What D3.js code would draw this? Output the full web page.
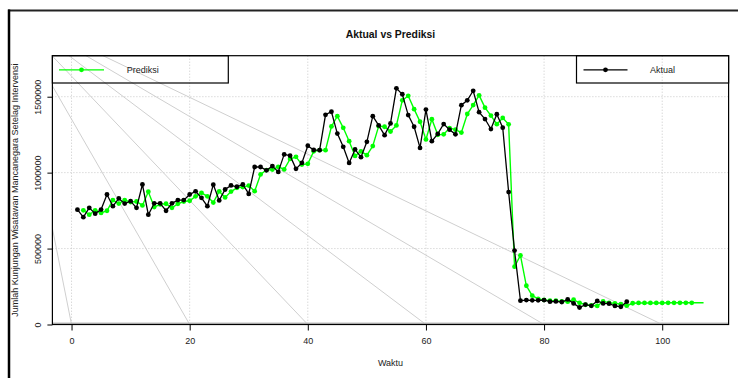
<!DOCTYPE html>
<html>
<head>
<meta charset="utf-8">
<script src="https://cdn.jsdelivr.net/npm/d3@7"></script>
<style>
  html, body { margin: 0; padding: 0; background: #fff; }
  svg { display: block; font-family: "Liberation Sans", Arial, Helvetica, sans-serif; }
</style>
</head>
<body>
<svg id="chart" width="738" height="378"></svg>
<script>
// Monthly visitor counts: actual series starts at t = 1, one-step predictions at t = 2
const actualStart = 1;
const actual = [
  756000, 707000, 768000, 730000, 757000, 856000, 779000, 830000, 796000, 812000,
  768000, 922000, 723000, 798000, 798000, 749000, 798000, 819000, 819000, 856000,
  877000, 834000, 779000, 921000, 817000, 889000, 916000, 907000, 922000, 860000,
  1037000, 1037000, 1015000, 1043000, 1005000, 1120000, 1112000, 1025000, 1064000, 1177000,
  1149000, 1148000, 1381000, 1401000, 1257000, 1170000, 1064000, 1153000, 1102000, 1203000,
  1372000, 1311000, 1247000, 1324000, 1555000, 1516000, 1379000, 1302000, 1163000, 1415000,
  1207000, 1255000, 1320000, 1283000, 1252000, 1444000, 1476000, 1539000, 1398000, 1353000,
  1287000, 1385000, 1296000, 872000, 487000, 157000, 161000, 159000, 159000, 161000,
  150000, 152000, 148000, 165000, 139000, 112000, 131000, 123000, 155000, 139000,
  137000, 122000, 117000, 150000
];

const predictedStart = 2;
const predicted = [
  752000, 723000, 752000, 735000, 749000, 819000, 796000, 819000, 806000, 810000,
  784000, 874000, 773000, 791000, 795000, 768000, 795000, 810000, 815000, 844000,
  867000, 844000, 803000, 877000, 837000, 875000, 900000, 905000, 915000, 878000,
  988000, 1017000, 1020000, 1038000, 1021000, 1090000, 1104000, 1053000, 1058000, 1140000,
  1148000, 1148000, 1304000, 1372000, 1295000, 1207000, 1110000, 1140000, 1115000, 1175000,
  1306000, 1302000, 1271000, 1311000, 1476000, 1506000, 1418000, 1335000, 1219000, 1352000,
  1249000, 1252000, 1293000, 1283000, 1264000, 1386000, 1445000, 1509000, 1428000, 1376000,
  1319000, 1360000, 1318000, 381000, 455000, 255000, 190000, 169000, 162000, 157000,
  157000, 152000, 150000, 163000, 143000, 130000, 126000, 122000, 152000, 143000,
  139000, 134000, 124000, 140000, 142000, 142000, 142000, 142000, 142000, 143000,
  143000, 143000, 143000, 143000, 143000, 143000
];
// prediction markers are drawn up to this time index; the line runs to the end
const predictedMarkedUntil = 105;

const xTicks = [0, 20, 40, 60, 80, 100];
const yTicks = [0, 500000, 1000000, 1500000];
const yMax = 1770000;

const titleText = "Aktual vs Prediksi";
const xTitle = "Waktu";
const yTitle = "Jumlah Kunjungan Wisatawan Mancanegara Setelag Intervensi";
const legendPred = "Prediksi";
const legendActual = "Aktual";

const GREEN = "#00ff00";
const BLACK = "#000000";

const actualData = actual.map((v, i) => ({ t: actualStart + i, v }));
const predData = predicted.map((v, i) => ({ t: predictedStart + i, v }));

// plot region
const L = 52.4, R = 728.6, T = 55.7, B = 324.5;

const tMin = actualStart, tMax = predictedStart + predicted.length - 1;
const pad = (tMax - tMin) * 0.04;
const x = d3.scaleLinear().domain([tMin - pad, tMax + pad]).range([L, R]);
const y = d3.scaleLinear().domain([0, yMax]).range([B, T]);

const svg = d3.select("#chart");

// figure frame (top and left edges)
const frameX = 9, frameY = 10.5;
svg.append("line").attr("x1", frameX - 1).attr("x2", 738).attr("y1", frameY).attr("y2", frameY)
  .attr("stroke", "#222").attr("stroke-width", 2);
svg.append("line").attr("x1", frameX).attr("x2", frameX).attr("y1", frameY - 1).attr("y2", 378)
  .attr("stroke", "#000").attr("stroke-width", 2.5);

svg.append("defs").append("clipPath").attr("id", "plotClip")
  .append("rect").attr("x", L).attr("y", T).attr("width", R - L).attr("height", B - T);

const plot = svg.append("g").attr("clip-path", "url(#plotClip)");

// dotted grid
plot.selectAll(".vgrid").data(xTicks).join("line")
  .attr("x1", d => x(d)).attr("x2", d => x(d)).attr("y1", T).attr("y2", B)
  .attr("stroke", "#c8c8c8").attr("stroke-width", 1).attr("stroke-dasharray", "1,2");
plot.selectAll(".hgrid").data(yTicks).join("line")
  .attr("x1", L).attr("x2", R).attr("y1", d => y(d)).attr("y2", d => y(d))
  .attr("stroke", "#c8c8c8").attr("stroke-width", 1).attr("stroke-dasharray", "1,2");

// fan of guide lines from the frame corner down to each time tick on the baseline
plot.selectAll(".fan").data(xTicks).join("line")
  .attr("x1", frameX).attr("y1", frameY)
  .attr("x2", d => x(d)).attr("y2", y(0))
  .attr("stroke", "#cfcfcf").attr("stroke-width", 1);

// baseline
plot.append("line").attr("x1", L).attr("x2", R).attr("y1", y(0) - 1).attr("y2", y(0) - 1)
  .attr("stroke", "#bdbdbd").attr("stroke-width", 2);

const line = d3.line().x(d => x(d.t)).y(d => y(d.v));

// predictions
plot.append("path").datum(predData).attr("d", line)
  .attr("fill", "none").attr("stroke", GREEN).attr("stroke-width", 1.4);
plot.selectAll(".pp").data(predData.filter(d => d.t <= predictedMarkedUntil)).join("circle")
  .attr("cx", d => x(d.t)).attr("cy", d => y(d.v)).attr("r", 2.4).attr("fill", GREEN);

// actual
plot.append("path").datum(actualData).attr("d", line)
  .attr("fill", "none").attr("stroke", BLACK).attr("stroke-width", 1.3);
plot.selectAll(".ap").data(actualData).join("circle")
  .attr("cx", d => x(d.t)).attr("cy", d => y(d.v)).attr("r", 2.4).attr("fill", BLACK);

// plot box
svg.append("rect").attr("x", L).attr("y", T).attr("width", R - L).attr("height", B - T)
  .attr("fill", "none").attr("stroke", "#000").attr("stroke-width", 1.2);

// axes
const xAxis = d3.axisBottom(x).tickValues(xTicks).tickSize(6).tickPadding(7).tickFormat(d3.format("d"));
const gx = svg.append("g").attr("transform", `translate(0,${B})`).call(xAxis);
gx.select(".domain").remove();
gx.selectAll("text").attr("font-size", 9).attr("fill", "#222").attr("font-family", "Liberation Sans, Arial, sans-serif");

const yAxis = d3.axisLeft(y).tickValues(yTicks).tickSize(5).tickFormat(d3.format("d"));
const gy = svg.append("g").attr("transform", `translate(${L},0)`).call(yAxis);
gy.select(".domain").remove();
// R-style labels: rotated, parallel to the axis
gy.selectAll("text")
  .attr("font-size", 9).attr("fill", "#222").attr("font-family", "Liberation Sans, Arial, sans-serif")
  .attr("text-anchor", "middle")
  .attr("transform", "translate(-14.7,0) rotate(-90)")
  .attr("x", 0).attr("y", 0).attr("dy", "0.35em");

// titles
svg.append("text").attr("x", (L + R) / 2).attr("y", 38).attr("text-anchor", "middle")
  .attr("font-size", 10.4).attr("font-weight", "bold").attr("fill", "#111").text(titleText);
svg.append("text").attr("x", (L + R) / 2).attr("y", 366).attr("text-anchor", "middle")
  .attr("font-size", 9).attr("fill", "#222").text(xTitle);
svg.append("text").attr("transform", `translate(18,${(T + B) / 2}) rotate(-90)`)
  .attr("text-anchor", "middle").attr("font-size", 9).attr("fill", "#222").text(yTitle);

// legends
const legH = 27.3;
function legend(x0, x1, color, label, lineFrom, lineTo, textX) {
  const g = svg.append("g");
  g.append("rect").attr("x", x0).attr("y", T).attr("width", x1 - x0).attr("height", legH)
    .attr("fill", "none").attr("stroke", "#000").attr("stroke-width", 1.2);
  const cy = T + legH / 2 + 0.5;
  g.append("line").attr("x1", lineFrom).attr("x2", lineTo).attr("y1", cy).attr("y2", cy)
    .attr("stroke", color).attr("stroke-width", 1.4);
  g.append("circle").attr("cx", (lineFrom + lineTo) / 2).attr("cy", cy).attr("r", 2.4).attr("fill", color);
  g.append("text").attr("x", textX).attr("y", cy).attr("dy", "0.35em")
    .attr("font-size", 9).attr("fill", "#222").text(label);
}
legend(L, 228.3, GREEN, legendPred, 59, 104, 126.7);
legend(576.5, R, BLACK, legendActual, 583.5, 627.5, 650);
</script>
</body>
</html>
